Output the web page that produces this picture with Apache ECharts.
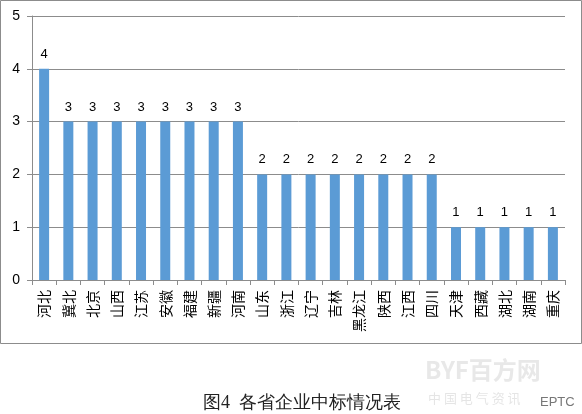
<!DOCTYPE html>
<html>
<head>
<meta charset="utf-8">
<script src="https://cdn.jsdelivr.net/npm/echarts@6/dist/echarts.min.js"></script>
<style>
html,body{margin:0;padding:0;background:#fff;}
#main{width:582px;height:414px;}
</style>
</head>
<body>
<div id="main"></div>
<script>
const categories = ['河北','冀北','北京','山西','江苏','安徽','福建','新疆','河南','山东','浙江','辽宁','吉林','黑龙江','陕西','江西','四川','天津','西藏','湖北','湖南','重庆'];
const values = [4,3,3,3,3,3,3,3,3,2,2,2,2,2,2,2,2,1,1,1,1,1];
const yTicks = [0,1,2,3,4,5];
const caption = '图4  各省企业中标情况表';

const chart = echarts.init(document.getElementById('main'), null, {renderer:'canvas'});
chart.setOption({
  animation:false,
  backgroundColor:'#fff',
  grid:{left:32,right:17,top:16,bottom:134,containLabel:false},
  xAxis:{
    type:'category',
    data:categories,
    boundaryGap:true,
    axisLine:{lineStyle:{color:'#8c8c8c',width:1}},
    axisTick:{show:true,alignWithLabel:false,length:5,lineStyle:{color:'#8c8c8c'}},
    axisLabel:{rotate:90,margin:10,fontSize:14,color:'#000',fontFamily:'"Noto Sans CJK SC", sans-serif',interval:0}
  },
  yAxis:{
    type:'value',
    min:yTicks[0],max:yTicks[yTicks.length-1],interval:1,
    axisLine:{show:true,lineStyle:{color:'#8c8c8c',width:1}},
    axisTick:{show:true,length:5,lineStyle:{color:'#8c8c8c'}},
    axisLabel:{fontSize:14,color:'#000',margin:12,fontFamily:'"Liberation Sans", Arial, sans-serif'},
    splitLine:{show:true,lineStyle:{color:'#8c8c8c',width:1}}
  },
  series:[{
    type:'bar',
    data:values,
    barWidth:10,
    itemStyle:{color:'#5B9BD5'},
    label:{show:true,position:'top',distance:8,fontSize:13,color:'#000',fontFamily:'"Liberation Sans", Arial, sans-serif'}
  }],
  graphic:[
    {type:'rect',shape:{x:0.5,y:0.5,width:581,height:343},style:{fill:null,stroke:'#8c8c8c',lineWidth:1},silent:true},
    {type:'text',left:203,top:394,style:{text:caption,fontSize:18,fill:'#222',fontFamily:'serif'}},
    {type:'text',left:425,top:358,style:{text:'BYF百方网',fontSize:24,fontWeight:'bold',fill:'rgba(180,180,180,0.3)',fontFamily:'"Noto Sans CJK SC", sans-serif'}},
    {type:'text',left:428,top:392,style:{text:'中 国 电 气 资 讯',fontSize:13,fill:'rgba(170,170,170,0.3)',fontFamily:'"Noto Sans CJK SC", sans-serif'}},
    {type:'text',left:540,top:396,style:{text:'EPTC',fontSize:13,fill:'#777',fontFamily:'"Liberation Sans", sans-serif'}}
  ]
});
</script>
</body>
</html>
